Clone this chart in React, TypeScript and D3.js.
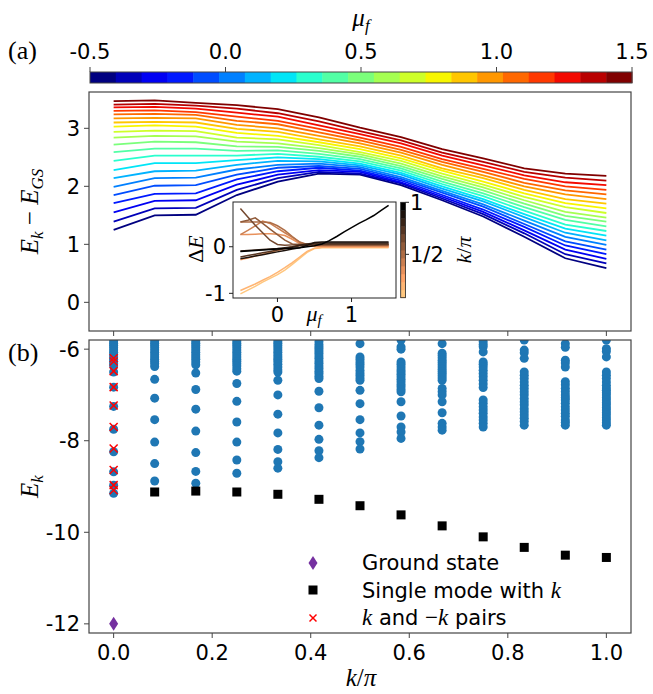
import React from "react";
import * as d3 from "d3";

// ---------- data ----------
const kGrid = [0, 0.0833, 0.1667, 0.25, 0.3333, 0.4167, 0.5, 0.5833, 0.6667, 0.75, 0.8333, 0.9167, 1.0];
const kTicks = [0, 0.2, 0.4, 0.6, 0.8, 1.0];
const kTickLabels = ["0.0", "0.2", "0.4", "0.6", "0.8", "1.0"];
const muValues = [-0.5, -0.4, -0.3, -0.2, -0.1, 0, 0.1, 0.2, 0.3, 0.4, 0.5, 0.6, 0.7, 0.8, 0.9, 1.0, 1.1, 1.2, 1.3, 1.4, 1.5];
const muTicks = [-0.5, 0, 0.5, 1.0, 1.5];
const muTickLabels = ["-0.5", "0.0", "0.5", "1.0", "1.5"];
const gapTicks = [0, 1, 2, 3];
const energyTicks = [-6, -8, -10, -12];

// panel (a): E_k - E_GS, one row per k, one entry per mu_f
const gapK00 = [1.25, 1.39, 1.55, 1.71, 1.85, 1.99, 2.14, 2.28, 2.44, 2.59, 2.72, 2.84, 2.94, 3.03, 3.10, 3.17, 3.24, 3.30, 3.36, 3.41, 3.47];
const gapK01 = [1.50, 1.62, 1.75, 1.87, 2.01, 2.14, 2.26, 2.40, 2.53, 2.65, 2.77, 2.87, 2.96, 3.05, 3.11, 3.18, 3.25, 3.31, 3.37, 3.42, 3.48];
const gapK02 = [1.51, 1.63, 1.76, 1.88, 2.02, 2.15, 2.27, 2.40, 2.53, 2.65, 2.76, 2.86, 2.95, 3.03, 3.10, 3.17, 3.23, 3.28, 3.34, 3.39, 3.44];
const gapK03 = [1.85, 1.94, 2.03, 2.12, 2.20, 2.29, 2.37, 2.45, 2.53, 2.61, 2.69, 2.77, 2.84, 2.92, 2.99, 3.06, 3.13, 3.20, 3.27, 3.34, 3.40];
const gapK04 = [2.08, 2.14, 2.20, 2.26, 2.32, 2.37, 2.44, 2.50, 2.56, 2.62, 2.68, 2.74, 2.81, 2.87, 2.94, 3.00, 3.07, 3.13, 3.20, 3.26, 3.33];
const gapK05 = [2.22, 2.25, 2.28, 2.32, 2.35, 2.39, 2.43, 2.47, 2.51, 2.56, 2.61, 2.66, 2.71, 2.76, 2.81, 2.87, 2.93, 2.99, 3.05, 3.12, 3.19];
const gapK06 = [2.20, 2.22, 2.25, 2.27, 2.30, 2.33, 2.36, 2.39, 2.43, 2.47, 2.51, 2.55, 2.59, 2.64, 2.69, 2.74, 2.79, 2.84, 2.90, 2.95, 3.01];
const gapK07 = [2.02, 2.05, 2.07, 2.10, 2.13, 2.16, 2.20, 2.23, 2.27, 2.31, 2.35, 2.39, 2.44, 2.48, 2.53, 2.58, 2.63, 2.68, 2.74, 2.79, 2.85];
const gapK08 = [1.76, 1.79, 1.82, 1.85, 1.89, 1.92, 1.96, 2.00, 2.04, 2.08, 2.13, 2.17, 2.22, 2.27, 2.31, 2.37, 2.42, 2.47, 2.53, 2.58, 2.64];
const gapK09 = [1.48, 1.52, 1.56, 1.60, 1.65, 1.69, 1.74, 1.78, 1.83, 1.88, 1.93, 1.98, 2.03, 2.08, 2.14, 2.19, 2.25, 2.30, 2.36, 2.42, 2.48];
const gapK10 = [1.13, 1.19, 1.24, 1.30, 1.35, 1.41, 1.47, 1.52, 1.58, 1.64, 1.70, 1.76, 1.82, 1.88, 1.94, 2.00, 2.06, 2.13, 2.19, 2.25, 2.31];
const gapK11 = [0.76, 0.83, 0.91, 0.98, 1.05, 1.13, 1.20, 1.27, 1.34, 1.42, 1.49, 1.56, 1.64, 1.71, 1.78, 1.86, 1.93, 2.00, 2.07, 2.15, 2.22];
const gapK12 = [0.59, 0.67, 0.75, 0.83, 0.91, 0.99, 1.07, 1.15, 1.23, 1.31, 1.39, 1.46, 1.54, 1.62, 1.70, 1.78, 1.86, 1.94, 2.02, 2.10, 2.18];
const gapByK = [gapK00, gapK01, gapK02, gapK03, gapK04, gapK05, gapK06, gapK07, gapK08, gapK09, gapK10, gapK11, gapK12];

// inset: Delta E vs mu_f, one row per k = j/12
const insetK = [0.0833, 0.1667, 0.25, 0.3333, 0.4167, 0.5, 0.5833, 0.6667, 0.75, 0.8333, 0.9167, 1.0];
const dE01 = [-1.01, -0.93, -0.85, -0.76, -0.68, -0.60, -0.50, -0.38, -0.25, -0.12, -0.04, -0.02, -0.02, -0.02, -0.02, -0.02, -0.02, -0.02, -0.02, -0.02, -0.02];
const dE02 = [-0.94, -0.87, -0.80, -0.72, -0.64, -0.55, -0.45, -0.34, -0.22, -0.10, -0.03, -0.01, -0.01, -0.01, -0.01, -0.01, -0.01, -0.01, -0.01, -0.01, -0.01];
const dE03 = [-0.28, -0.24, -0.20, -0.16, -0.12, -0.08, -0.04, 0.00, 0.03, 0.03, 0.01, 0.00, 0.00, 0.00, 0.00, 0.00, 0.00, 0.00, 0.00, 0.00, 0.00];
const dE04 = [0.26, 0.26, 0.27, 0.28, 0.28, 0.27, 0.24, 0.16, 0.07, 0.02, 0.01, 0.01, 0.01, 0.01, 0.01, 0.01, 0.01, 0.01, 0.01, 0.01, 0.01];
const dE05 = [0.26, 0.35, 0.45, 0.55, 0.50, 0.40, 0.30, 0.20, 0.10, 0.04, 0.02, 0.02, 0.02, 0.02, 0.02, 0.02, 0.02, 0.02, 0.02, 0.02, 0.02];
const dE06 = [0.53, 0.53, 0.53, 0.53, 0.52, 0.45, 0.35, 0.22, 0.10, 0.05, 0.03, 0.03, 0.03, 0.03, 0.03, 0.03, 0.03, 0.03, 0.03, 0.03, 0.03];
const dE07 = [0.53, 0.57, 0.62, 0.50, 0.38, 0.26, 0.14, 0.06, 0.05, 0.05, 0.04, 0.04, 0.04, 0.04, 0.04, 0.04, 0.04, 0.04, 0.04, 0.04, 0.04];
const dE08 = [0.82, 0.64, 0.46, 0.30, 0.14, 0.05, 0.03, 0.04, 0.05, 0.05, 0.05, 0.05, 0.05, 0.05, 0.05, 0.05, 0.05, 0.05, 0.05, 0.05, 0.05];
const dE09 = [-0.22, -0.19, -0.16, -0.13, -0.10, -0.07, -0.04, -0.01, 0.02, 0.05, 0.06, 0.06, 0.06, 0.06, 0.06, 0.06, 0.06, 0.06, 0.06, 0.06, 0.06];
const dE10 = [-0.09, -0.08, -0.07, -0.06, -0.05, -0.04, -0.02, 0.00, 0.03, 0.06, 0.08, 0.08, 0.08, 0.08, 0.08, 0.08, 0.08, 0.08, 0.08, 0.08, 0.08];
const dE11 = [-0.26, -0.23, -0.20, -0.17, -0.14, -0.11, -0.08, -0.05, -0.02, 0.03, 0.09, 0.10, 0.10, 0.10, 0.10, 0.10, 0.10, 0.10, 0.10, 0.10, 0.10];
const dE12 = [-0.10, -0.09, -0.08, -0.07, -0.06, -0.05, -0.04, -0.03, -0.02, 0.00, 0.02, 0.06, 0.13, 0.22, 0.32, 0.41, 0.50, 0.58, 0.67, 0.78, 0.89];
const insetDeltaE = [dE01, dE02, dE03, dE04, dE05, dE06, dE07, dE08, dE09, dE10, dE11, dE12];

// panel (b): spectrum E_k per momentum sector
const blueK00 = [-5.82, -5.87, -5.92, -5.97, -6.02, -6.07, -6.12, -6.17, -6.22, -6.27, -6.32, -6.37, -6.50, -6.83, -7.25, -7.75, -8.24, -8.68, -8.97, -9.15];
const blueK01 = [-5.82, -5.87, -5.92, -5.97, -6.02, -6.07, -6.12, -6.17, -6.22, -6.27, -6.32, -6.38, -6.66, -7.07, -7.54, -8.03, -8.50, -8.88];
const blueK02 = [-5.82, -5.87, -5.92, -5.97, -6.02, -6.07, -6.12, -6.17, -6.22, -6.28, -6.34, -6.52, -6.88, -7.31, -7.79, -8.26, -8.67, -8.93];
const blueK03 = [-5.82, -5.87, -5.92, -5.97, -6.02, -6.07, -6.12, -6.17, -6.22, -6.27, -6.32, -6.37, -6.43, -6.48, -6.75, -7.14, -7.59, -8.03, -8.42, -8.71];
const blueK04 = [-5.82, -5.87, -5.92, -5.97, -6.02, -6.07, -6.12, -6.17, -6.22, -6.27, -6.33, -6.39, -6.45, -6.50, -6.68, -7.00, -7.42, -7.83, -8.19, -8.46, -8.60];
const blueK05 = [-5.84, -5.90, -5.95, -5.99, -6.04, -6.09, -6.15, -6.20, -6.26, -6.31, -6.37, -6.42, -6.48, -6.53, -6.59, -6.64, -6.92, -7.28, -7.66, -7.97, -8.22, -8.37];
const blueK06 = [-5.88, -6.17, -6.22, -6.28, -6.33, -6.39, -6.46, -6.52, -6.57, -6.63, -6.68, -6.90, -7.19, -7.54, -7.83, -8.02, -8.18];
const blueK07 = [-5.80, -5.95, -6.00, -6.28, -6.33, -6.39, -6.45, -6.50, -6.55, -6.60, -6.66, -6.71, -6.77, -6.82, -6.88, -6.93, -7.15, -7.46, -7.70, -7.81, -7.95];
const blueK08 = [-5.88, -6.09, -6.14, -6.19, -6.24, -6.29, -6.34, -6.39, -6.44, -6.49, -6.53, -6.58, -6.63, -6.68, -6.86, -6.93, -7.00, -7.15, -7.39, -7.62, -7.70, -7.77];
const blueK09 = [-5.84, -5.90, -5.95, -6.06, -6.28, -6.33, -6.39, -6.46, -6.53, -6.60, -6.68, -6.76, -6.84, -7.11, -7.18, -7.26, -7.33, -7.40, -7.48, -7.55, -7.62, -7.70];
const blueK10 = [-5.80, -6.02, -6.08, -6.20, -6.50, -6.57, -6.64, -6.72, -6.79, -6.86, -6.93, -7.00, -7.08, -7.15, -7.22, -7.30, -7.37, -7.44, -7.51, -7.58, -7.66];
const blueK11 = [-5.88, -5.96, -6.24, -6.30, -6.39, -6.71, -6.78, -6.86, -6.93, -7.00, -7.06, -7.11, -7.18, -7.26, -7.33, -7.40, -7.47, -7.55, -7.60, -7.66];
const blueK12 = [-5.80, -5.99, -6.05, -6.17, -6.50, -6.57, -6.64, -6.72, -6.79, -6.85, -6.90, -6.95, -7.00, -7.06, -7.11, -7.17, -7.22, -7.28, -7.33, -7.39, -7.44, -7.50, -7.55, -7.61, -7.66];
const spectrumByK = [blueK00, blueK01, blueK02, blueK03, blueK04, blueK05, blueK06, blueK07, blueK08, blueK09, blueK10, blueK11, blueK12];
const singleModeK = [0.0833, 0.1667, 0.25, 0.3333, 0.4167, 0.5, 0.5833, 0.6667, 0.75, 0.8333, 0.9167, 1.0];
const singleModeE = [-9.12, -9.10, -9.12, -9.17, -9.28, -9.42, -9.62, -9.86, -10.10, -10.33, -10.50, -10.55];
const pairE = [-6.20, -6.27, -6.48, -6.83, -7.23, -7.70, -8.17, -8.64, -8.97, -9.08];
const groundK = 0;
const groundE = -12.0;

// ---------- colormaps ----------
type Stops = number[][];
const jetR: Stops = [[0, 0], [0.35, 0], [0.66, 1], [0.89, 1], [1, 0.5]];
const jetG: Stops = [[0, 0], [0.125, 0], [0.375, 1], [0.64, 1], [0.91, 0], [1, 0]];
const jetB: Stops = [[0, 0.5], [0.11, 1], [0.34, 1], [0.65, 0], [1, 0]];
function seg(st: Stops, t: number) {
  for (let i = 1; i < st.length; i++) {
    if (t <= st[i][0]) {
      const [x0, y0] = st[i - 1];
      const [x1, y1] = st[i];
      return y0 + ((y1 - y0) * (t - x0)) / (x1 - x0);
    }
  }
  return st[st.length - 1][1];
}
function jet(t: number) {
  return d3.rgb(seg(jetR, t) * 255, seg(jetG, t) * 255, seg(jetB, t) * 255).formatHex();
}
function copper(t: number) {
  return d3.rgb(Math.min(1, 1.25 * t) * 255, 0.7812 * t * 255, 0.4975 * t * 255).formatHex();
}

// ---------- layout ----------
const W = 653, H = 694;
const X0 = 89, X1 = 631;
const aTop = 92, aBot = 331, bTop = 340, bBot = 633;
const SANS = "'DejaVu Sans', sans-serif";
const SERIF = "'Liberation Serif', 'DejaVu Serif', serif";
const AX = "#444";
const TICK_FS = 21;

export default function App() {
  const x = d3.scaleLinear().domain([-0.05, 1.05]).range([X0, X1]);
  const ya = d3.scaleLinear().domain([-0.494, 3.626]).range([aBot, aTop]);
  const yb = d3.scaleLinear().domain([-12.2, -5.8]).range([bBot, bTop]);
  const cx = d3.scaleLinear().domain([-0.5, 1.5]).range([90, 632]);
  const cbTop = 72, cbBot = 83;
  const ix = d3.scaleLinear().domain([-0.6, 1.6]).range([233, 396]);
  const iy = d3.scaleLinear().domain([-1.1, 0.96]).range([298, 202]);
  const icb = d3.scaleLinear().domain([0.0833, 1]).range([297.7, 202.3]);

  const nMu = muValues.length;
  const muColor = (i: number) => jet(i / (nMu - 1));
  const kColor = (i: number) => copper(1 - i / (insetK.length - 1));

  const lineA = d3.line<[number, number]>().x((d) => x(d[0])).y((d) => ya(d[1]));
  const lineI = d3.line<[number, number]>().x((d) => ix(d[0])).y((d) => iy(d[1]));

  const mathStyle = { fontFamily: SERIF, fontStyle: "italic" as const };

  return (
    <svg width={W} height={H} viewBox={`0 0 ${W} ${H}`} style={{ position: "absolute", left: 0, top: 0, background: "#fff" }}>
      <defs>
        <clipPath id="clipA"><rect x={X0} y={aTop} width={X1 - X0} height={aBot - aTop} /></clipPath>
        <clipPath id="clipB"><rect x={X0} y={bTop} width={X1 - X0} height={bBot - bTop} /></clipPath>
        <clipPath id="clipI"><rect x={233} y={202} width={163} height={96} /></clipPath>
      </defs>
      <rect x={0} y={0} width={W} height={H} fill="#fff" />

      {/* ---------- top colorbar ---------- */}
      <text x={361} y={26} textAnchor="middle" fontSize={25} {...mathStyle}>
        μ<tspan dy={5} fontSize={17}>f</tspan>
      </text>
      <text x={8} y={59} fontSize={26} fontFamily={SERIF}>(a)</text>
      {muValues.map((m, i) => {
        const w = (cx.range()[1] - cx.range()[0]) / nMu;
        return <rect key={i} x={cx.range()[0] + i * w} y={cbTop} width={w + 0.5} height={cbBot - cbTop} fill={muColor(i)} />;
      })}
      <rect x={90} y={cbTop} width={542} height={cbBot - cbTop} fill="none" stroke={AX} strokeWidth={1} />
      {muTicks.map((t, i) => (
        <g key={i}>
          <line x1={cx(t)} x2={cx(t)} y1={cbTop} y2={cbTop - 5} stroke={AX} strokeWidth={1} />
          <text x={cx(t)} y={cbTop - 13} textAnchor="middle" fontSize={TICK_FS} fontFamily={SANS}>{muTickLabels[i]}</text>
        </g>
      ))}

      {/* ---------- panel (a) ---------- */}
      <g clipPath="url(#clipA)">
        {muValues.map((m, i) => (
          <path key={i} d={lineA(kGrid.map((k, j) => [k, gapByK[j][i]] as [number, number])) || ""} fill="none" stroke={muColor(i)} strokeWidth={1.8} />
        ))}
      </g>
      <rect x={X0} y={aTop} width={X1 - X0} height={aBot - aTop} fill="none" stroke={AX} strokeWidth={1.2} />
      {kTicks.map((t, i) => (
        <line key={i} x1={x(t)} x2={x(t)} y1={aBot} y2={aBot + 5} stroke={AX} strokeWidth={1} />
      ))}
      {gapTicks.map((t, i) => (
        <g key={i}>
          <line x1={X0} x2={X0 - 5} y1={ya(t)} y2={ya(t)} stroke={AX} strokeWidth={1} />
          <text x={X0 - 9} y={ya(t) + 7.5} textAnchor="end" fontSize={TICK_FS} fontFamily={SANS}>{t}</text>
        </g>
      ))}
      <text transform={`translate(38, ${(aTop + aBot) / 2}) rotate(-90)`} textAnchor="middle" fontSize={25} {...mathStyle}>
        E<tspan dy={5} fontSize={17}>k</tspan>
        <tspan dy={-5} fontStyle="normal"> − </tspan>E<tspan dy={5} fontSize={17}>GS</tspan>
      </text>

      {/* ---------- inset ---------- */}
      <rect x={233} y={202} width={163} height={96} fill="#fff" />
      <g clipPath="url(#clipI)">
        {insetDeltaE.map((row, j) => (
          <path key={j} d={lineI(muValues.map((m, i) => [m, row[i]] as [number, number])) || ""} fill="none" stroke={kColor(j)} strokeWidth={1.5} />
        ))}
      </g>
      <rect x={233} y={202} width={163} height={96} fill="none" stroke="#222" strokeWidth={1} />
      {[0, 1].map((t) => (
        <g key={t}>
          <line x1={ix(t)} x2={ix(t)} y1={298} y2={302} stroke="#222" />
          <text x={ix(t)} y={322} textAnchor="middle" fontSize={TICK_FS} fontFamily={SANS}>{t}</text>
        </g>
      ))}
      {[0, -1].map((t) => (
        <g key={t}>
          <line x1={233} x2={229} y1={iy(t)} y2={iy(t)} stroke="#222" />
          <text x={226} y={iy(t) + 7.5} textAnchor="end" fontSize={TICK_FS} fontFamily={SANS}>{t === 0 ? "0" : "-1"}</text>
        </g>
      ))}
      <text x={314} y={321} textAnchor="middle" fontSize={22} {...mathStyle}>
        μ<tspan dy={4} fontSize={15}>f</tspan>
      </text>
      <text transform={`translate(203, 249) rotate(-90)`} textAnchor="middle" fontSize={22} {...mathStyle}>
        <tspan fontStyle="normal">Δ</tspan>E
      </text>
      {/* inset colorbar */}
      {insetK.map((k, j) => {
        const h = (297.7 - 202.3) / insetK.length;
        return <rect key={j} x={400.7} y={297.7 - (j + 1) * h} width={4.8} height={h + 0.4} fill={kColor(j)} />;
      })}
      <rect x={400.7} y={202.3} width={4.8} height={95.4} fill="none" stroke="#222" strokeWidth={0.8} />
      {[{ v: 1, l: "1" }, { v: 0.5, l: "1/2" }].map((t) => (
        <g key={t.l}>
          <line x1={405.5} x2={409} y1={icb(t.v)} y2={icb(t.v)} stroke="#222" />
          <text x={410} y={icb(t.v) + 7.5} fontSize={TICK_FS} fontFamily={SANS}>{t.l}</text>
        </g>
      ))}
      <text transform={`translate(471, 250) rotate(-90)`} textAnchor="middle" fontSize={22} {...mathStyle}>
        k<tspan fontStyle="normal">/</tspan>π
      </text>

      {/* ---------- panel (b) ---------- */}
      <text x={8} y={361} fontSize={26} fontFamily={SERIF}>(b)</text>
      <g clipPath="url(#clipB)">
        {spectrumByK.map((col, j) =>
          col.map((e, i) => <circle key={`${j}-${i}`} cx={x(kGrid[j])} cy={yb(e)} r={4.5} fill="#1f77b4" />)
        )}
        {singleModeK.map((k, i) => (
          <rect key={i} x={x(k) - 4.5} y={yb(singleModeE[i]) - 4.5} width={9} height={9} fill="#000" />
        ))}
        {pairE.map((e, i) => {
          const px = x(0), py = yb(e), s = 4;
          return (
            <g key={i} stroke="#ff0000" strokeWidth={1.5}>
              <line x1={px - s} y1={py - s} x2={px + s} y2={py + s} />
              <line x1={px - s} y1={py + s} x2={px + s} y2={py - s} />
            </g>
          );
        })}
        <path d={`M${x(groundK)},${yb(groundE) - 7} L${x(groundK) + 4.5},${yb(groundE)} L${x(groundK)},${yb(groundE) + 7} L${x(groundK) - 4.5},${yb(groundE)} Z`} fill="#7530a0" />
      </g>
      <rect x={X0} y={bTop} width={X1 - X0} height={bBot - bTop} fill="none" stroke={AX} strokeWidth={1.2} />
      {kTicks.map((t, i) => (
        <g key={i}>
          <line x1={x(t)} x2={x(t)} y1={bBot} y2={bBot + 5} stroke={AX} strokeWidth={1} />
          <text x={x(t)} y={660} textAnchor="middle" fontSize={TICK_FS} fontFamily={SANS}>{kTickLabels[i]}</text>
        </g>
      ))}
      {energyTicks.map((t, i) => (
        <g key={i}>
          <line x1={X0} x2={X0 - 5} y1={yb(t)} y2={yb(t)} stroke={AX} strokeWidth={1} />
          <text x={X0 - 9} y={yb(t) + 7.5} textAnchor="end" fontSize={TICK_FS} fontFamily={SANS}>{`-${Math.abs(t)}`}</text>
        </g>
      ))}
      <text transform={`translate(38, ${(bTop + bBot) / 2}) rotate(-90)`} textAnchor="middle" fontSize={25} {...mathStyle}>
        E<tspan dy={5} fontSize={17}>k</tspan>
      </text>
      <text x={361} y={686} textAnchor="middle" fontSize={25} {...mathStyle}>
        k<tspan fontStyle="normal">/</tspan>π
      </text>

      {/* legend */}
      <g>
        <path d="M313,556 L317.5,563 L313,570 L308.5,563 Z" fill="#7530a0" />
        <text x={362} y={570} fontSize={TICK_FS} fontFamily={SANS}>Ground state</text>
        <rect x={308.5} y={585.5} width={9} height={9} fill="#000" />
        <text x={362} y={597.5} fontSize={TICK_FS} fontFamily={SANS}>
          Single mode with <tspan {...mathStyle} fontSize={23}>k</tspan>
        </text>
        <g stroke="#ff0000" strokeWidth={1.5}>
          <line x1={309.5} y1={614.5} x2={316.5} y2={621.5} />
          <line x1={309.5} y1={621.5} x2={316.5} y2={614.5} />
        </g>
        <text x={362} y={625} fontSize={TICK_FS} fontFamily={SANS}>
          <tspan {...mathStyle} fontSize={23}>k</tspan> and <tspan fontFamily={SERIF} fontSize={23}>−</tspan><tspan {...mathStyle} fontSize={23}>k</tspan> pairs
        </text>
      </g>
    </svg>
  );
}
